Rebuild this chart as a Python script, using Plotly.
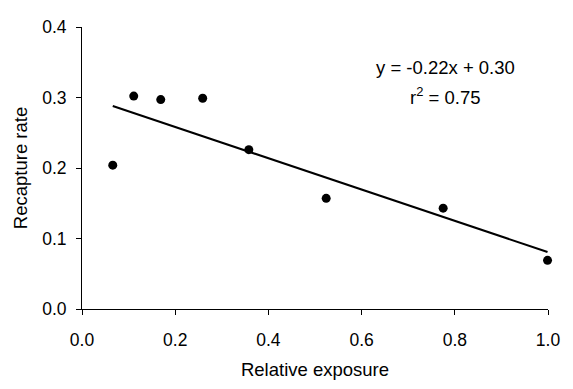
import numpy as np
import plotly.graph_objects as go

exposure = [0.066, 0.111, 0.169, 0.259, 0.358, 0.524, 0.775, 0.999]
recapture = [0.204, 0.302, 0.297, 0.299, 0.226, 0.157, 0.143, 0.069]
x_ticks = [0.0, 0.2, 0.4, 0.6, 0.8, 1.0]
y_ticks = [0.0, 0.1, 0.2, 0.3, 0.4]
eq_text = "y = -0.22x + 0.30"
r2_text = "r<sup>2</sup> = 0.75"

slope, intercept = np.polyfit(exposure, recapture, 1)
fit_x = [min(exposure), max(exposure)]
fit_y = [slope * v + intercept for v in fit_x]

fam = "Arial, Liberation Sans, sans-serif"
tick_font = dict(family=fam, size=17.5, color="black")
title_font = dict(family=fam, size=18.5, color="black")
eq_font = dict(family=fam, size=18.5, color="black")

fig = go.Figure()
fig.add_trace(go.Scatter(x=fit_x, y=fit_y, mode="lines",
                         line=dict(color="black", width=2), showlegend=False,
                         cliponaxis=False))
fig.add_trace(go.Scatter(x=exposure, y=recapture, mode="markers",
                         marker=dict(color="black", size=9), showlegend=False,
                         cliponaxis=False))

fig.add_annotation(x=0.78, y=0.343, text=eq_text, showarrow=False,
                   font=eq_font, xanchor="center", yanchor="middle")
fig.add_annotation(x=0.78, y=0.302, text=r2_text, showarrow=False,
                   font=eq_font, xanchor="center", yanchor="middle")

fig.update_layout(
    width=573, height=389,
    margin=dict(l=82, r=25, t=27, b=78),
    plot_bgcolor="white", paper_bgcolor="white",
    font=title_font,
    xaxis=dict(range=[0, 1], tickvals=x_ticks, ticktext=[f"{v:.1f}" for v in x_ticks],
               showgrid=False, zeroline=False, showline=True, linecolor="black",
               linewidth=1, ticks="outside", ticklen=5, tickcolor="black",
               tickfont=tick_font, ticklabelstandoff=10,
               title=dict(text="Relative exposure", font=title_font, standoff=14)),
    yaxis=dict(range=[0, 0.4], tickvals=y_ticks, ticktext=[f"{v:.1f}" for v in y_ticks],
               showgrid=False, zeroline=False, showline=True, linecolor="black",
               linewidth=1, ticks="outside", ticklen=5, tickcolor="black",
               tickfont=tick_font, ticklabelstandoff=6,
               title=dict(text="Recapture rate", font=title_font, standoff=9)),
)

# remove the default page margin so the figure sits at the window's corner
fig.write_html("out.html", config={"displayModeBar": False},
               post_script="document.body.style.margin='0';document.body.style.overflow='hidden';")
